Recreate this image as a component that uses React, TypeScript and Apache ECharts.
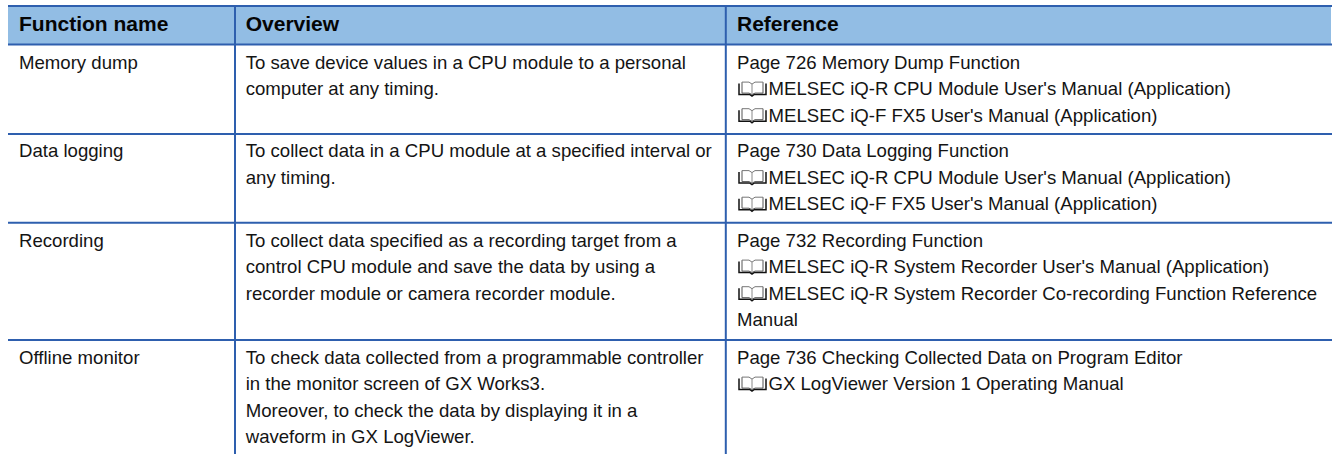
import React, { useEffect, useRef } from "react";
import * as echarts from "echarts";

const headers = ["Function name", "Overview", "Reference"];
const names = ["Memory dump", "Data logging", "Recording", "Offline monitor"];
const overviews = [
  ["To save device values in a CPU module to a personal", "computer at any timing."],
  ["To collect data in a CPU module at a specified interval or", "any timing."],
  ["To collect data specified as a recording target from a", "control CPU module and save the data by using a", "recorder module or camera recorder module."],
  ["To check data collected from a programmable controller", "in the monitor screen of GX Works3.", "Moreover, to check the data by displaying it in a", "waveform in GX LogViewer."],
];
const references = [
  ["Page 726 Memory Dump Function", "#MELSEC iQ-R CPU Module User's Manual (Application)", "#MELSEC iQ-F FX5 User's Manual (Application)"],
  ["Page 730 Data Logging Function", "#MELSEC iQ-R CPU Module User's Manual (Application)", "#MELSEC iQ-F FX5 User's Manual (Application)"],
  ["Page 732 Recording Function", "#MELSEC iQ-R System Recorder User's Manual (Application)", "#MELSEC iQ-R System Recorder Co-recording Function Reference", "Manual"],
  ["Page 736 Checking Collected Data on Program Editor", "#GX LogViewer Version 1 Operating Manual"],
];
const rowTops = [44.5, 134, 222.7, 340];
const rowFirstLine = [62, 150.5, 240, 357];
const lineGap = 26.6;
const colX = [8, 235, 725.8, 1332];
const tableTop = 6, tableBottom = 454;
const FONT = '"Liberation Sans", Arial, sans-serif';
const LINE = "#2E5FAE";
const INK = "#141414";

function buildGraphic() {
  const els: any[] = [];
  els.push({ type: "rect", shape: { x: colX[0], y: tableTop, width: colX[3] - 1 - colX[0], height: rowTops[0] - tableTop }, style: { fill: "#92BDE4" } });
  const hl = (y: number) => els.push({ type: "line", shape: { x1: colX[0], y1: y, x2: colX[3], y2: y }, style: { stroke: LINE, lineWidth: 2 } });
  hl(tableTop);
  rowTops.forEach(hl);
  [colX[1], colX[2]].forEach((x) => els.push({ type: "line", shape: { x1: x, y1: tableTop, x2: x, y2: tableBottom }, style: { stroke: LINE, lineWidth: 2 } }));
  const text = (t: string, x: number, y: number, bold = false) =>
    els.push({
      type: "text", x, y,
      style: { text: t, fill: bold ? "#050505" : INK, font: `${bold ? "bold " : ""}${bold ? 21 : 18.6}px ${FONT}`, verticalAlign: "middle", align: "left" },
    });
  const textX = [19, 245.7, 737];
  headers.forEach((h, i) => text(h, textX[i], 23.5, true));
  names.forEach((n, r) => {
    text(n, textX[0], rowFirstLine[r]);
    overviews[r].forEach((l, k) => text(l, textX[1], rowFirstLine[r] + k * lineGap));
    references[r].forEach((l, k) => {
      const y = rowFirstLine[r] + k * lineGap;
      if (l.startsWith("#")) {
        els.push({ type: "group", x: 738, y: y - 8, children: [
          { type: "polyline", shape: { points: [[1, 3], [1, 14], [12, 14], [14, 15.5], [16, 14], [28, 14], [28, 3]] }, style: { stroke: "#111", fill: "none", lineWidth: 1.5 } },
          { type: "polyline", shape: { points: [[4, 1.5], [4, 12.5], [11, 12.5], [14, 14], [17, 12.5], [25, 12.5], [25, 1.5]] }, style: { stroke: "#555", fill: "none", lineWidth: 1 } },
          { type: "polyline", shape: { points: [[4, 1.5], [11, 1.5], [14, 3.5], [17, 1.5], [25, 1.5]] }, style: { stroke: "#777", fill: "none", lineWidth: 1 } },
          { type: "line", shape: { x1: 14, y1: 3.5, x2: 14, y2: 14 }, style: { stroke: "#888", lineWidth: 1 } },
        ]});
        text(l.slice(1), 768.5, y);
      } else text(l, textX[2], y);
    });
  });
  return els;
}

export default function App() {
  const ref = useRef<HTMLDivElement>(null);
  useEffect(() => {
    document.body.style.margin = "0";
    document.body.style.background = "#fff";
    const chart = echarts.init(ref.current!, null, { renderer: "svg" });
    chart.setOption({ animation: false, graphic: { elements: buildGraphic() } });
    return () => chart.dispose();
  }, []);
  return <div ref={ref} style={{ width: 1333, height: 454 }} />;
}
